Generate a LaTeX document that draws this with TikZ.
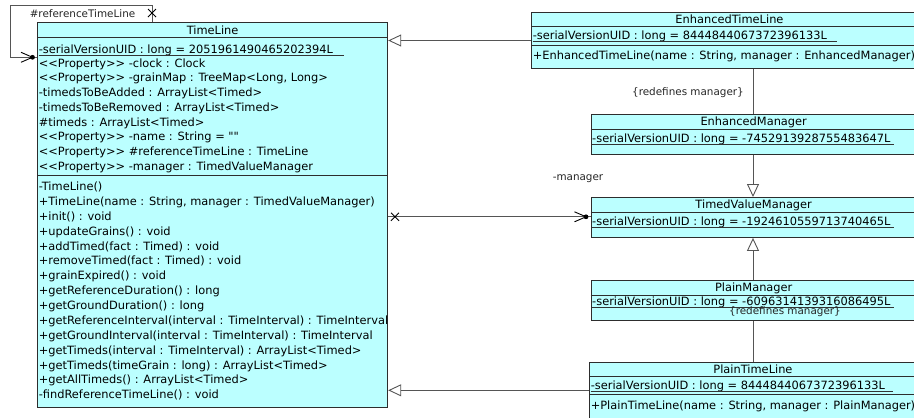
\documentclass[tikz,border=0pt]{standalone}
\usepackage{fontspec}
\setmainfont{DejaVu Sans}[Ligatures=TeXOff]
\usetikzlibrary{arrows.meta}
\definecolor{classfill}{RGB}{187,255,255}
\definecolor{boxline}{RGB}{45,45,45}
\definecolor{wirecol}{RGB}{85,85,85}
\newcommand\umltext{\fontsize{11.4}{13}\selectfont}
\newcommand\umllabel{\fontsize{10.4}{12}\selectfont}

\begin{document}
\begin{tikzpicture}[x=1pt,y=-1pt,
  classbox/.style={draw=boxline, fill=classfill, line width=0.9pt, inner sep=0pt, anchor=north west},
  member/.style={anchor=base west, inner sep=0pt, font=\umltext},
  classtitle/.style={anchor=base, inner sep=0pt, font=\umltext},
  rolelabel/.style={anchor=base, inner sep=0pt, font=\umllabel, text=black!85},
  divider/.style={draw=boxline, line width=0.9pt},
  staticline/.style={draw=black!80, line width=0.7pt},
  wire/.style={draw=wirecol, line width=0.9pt},
  genwire/.style={wire, -{Triangle[open, length=13pt, width=12pt, fill=white]}},
  navtip/.style={draw=black, line width=0.9pt},
]
\useasboundingbox (0,0) rectangle (914,418);
\clip (0,0) rectangle (914,418);

% ---------- TimeLine ----------
\node[classbox, minimum width=350.3pt, minimum height=385pt] (tl) at (37,21.7) {};
\draw[divider] (tl.west |- 0,37.7) -- (tl.east |- 0,37.7);
\draw[divider] (tl.west |- 0,175.7) -- (tl.east |- 0,175.7);
\node[classtitle] (tl-title) at (tl.center |- 0,34.6) {TimeLine};
\node[member] (tl-uid) at (38.6,53.3) {-serialVersionUID : long = 2051961490465202394L};
\draw[staticline] ([yshift=-2pt]tl-uid.base west) -- ([yshift=-2pt,xshift=11pt]tl-uid.base east);
\foreach \txt [count=\i] in {
  {<<Property>> -clock : Clock},
  {<<Property>> -grainMap : TreeMap<Long, Long>},
  {-timedsToBeAdded : ArrayList<Timed>},
  {-timedsToBeRemoved : ArrayList<Timed>},
  {\#timeds : ArrayList<Timed>},
  {<<Property>> -name : String = ""},
  {<<Property>> \#referenceTimeLine : TimeLine},
  {<<Property>> -manager : TimedValueManager}}
  \node[member] (tl-a\i) at (38.6,{63.3+3.8+14.77*(\i-1)}) {\txt};
\foreach \txt [count=\i] in {
  {-TimeLine()},
  {+TimeLine(name : String, manager : TimedValueManager)},
  {+init() : void},
  {+updateGrains() : void},
  {+addTimed(fact : Timed) : void},
  {+removeTimed(fact : Timed) : void},
  {+grainExpired() : void},
  {+getReferenceDuration() : long},
  {+getGroundDuration() : long},
  {+getReferenceInterval(interval : TimeInterval) : TimeInterval},
  {+getGroundInterval(interval : TimeInterval) : TimeInterval},
  {+getTimeds(interval : TimeInterval) : ArrayList<Timed>},
  {+getTimeds(timeGrain : long) : ArrayList<Timed>},
  {+getAllTimeds() : ArrayList<Timed>},
  {-findReferenceTimeLine() : void}}
  \node[member] (tl-m\i) at (38.6,{186.7+3.8+14.88*(\i-1)}) {\txt};

% ---------- EnhancedTimeLine ----------
\node[classbox, minimum width=396pt, minimum height=56pt] (etl) at (531,12.3) {};
\draw[divider] (etl.west |- 0,26.3) -- (etl.east |- 0,26.3);
\draw[divider] (etl.west |- 0,45) -- (etl.east |- 0,45);
\node[classtitle] (etl-title) at (etl.center |- 0,23.2) {EnhancedTimeLine};
\node[member] (etl-uid) at (532.6,39.6) {-serialVersionUID : long = 8444844067372396133L};
\draw[staticline] ([yshift=-2pt]etl-uid.base west) -- ([yshift=-2pt,xshift=10pt]etl-uid.base east);
\node[member] (etl-m1) at (532.6,59.3) {+EnhancedTimeLine(name : String, manager : EnhancedManager)};

% ---------- EnhancedManager ----------
\node[classbox, minimum width=325.5pt, minimum height=40pt] (em) at (590.5,114) {};
\draw[divider] (em.west |- 0,129) -- (em.east |- 0,129);
\node[classtitle] (em-title) at (em.center |- 0,125.3) {EnhancedManager};
\node[member] (em-uid) at (592,142.8) {-serialVersionUID : long = -7452913928755483647L};
\draw[staticline] ([yshift=-2pt]em-uid.base west) -- ([yshift=-2pt,xshift=3pt]em-uid.base east);

% ---------- TimedValueManager ----------
\node[classbox, minimum width=325.5pt, minimum height=40pt] (tvm) at (590.5,197) {};
\draw[divider] (tvm.west |- 0,212) -- (tvm.east |- 0,212);
\node[classtitle] (tvm-title) at (tvm.center |- 0,208.3) {TimedValueManager};
\node[member] (tvm-uid) at (592,225.8) {-serialVersionUID : long = -1924610559713740465L};
\draw[staticline] ([yshift=-2pt]tvm-uid.base west) -- ([yshift=-2pt,xshift=3pt]tvm-uid.base east);

% ---------- PlainManager ----------
\node[classbox, minimum width=325.5pt, minimum height=40pt] (pm) at (590.5,280) {};
\draw[divider] (pm.west |- 0,295) -- (pm.east |- 0,295);
\node[classtitle] (pm-title) at (pm.center |- 0,291.3) {PlainManager};
\node[member] (pm-uid) at (592,305.8) {-serialVersionUID : long = -6096314139316086495L};
\draw[staticline] ([yshift=-2pt]pm-uid.base west) -- ([yshift=-2pt,xshift=3pt]pm-uid.base east);

% ---------- PlainTimeLine ----------
\node[classbox, minimum width=327pt, minimum height=70pt] (ptl) at (589,362) {};
\draw[divider] (ptl.west |- 0,376) -- (ptl.east |- 0,376);
\draw[divider] (ptl.west |- 0,394.7) -- (ptl.east |- 0,394.7);
\node[classtitle] (ptl-title) at (ptl.center |- 0,373) {PlainTimeLine};
\node[member] (ptl-uid) at (590.6,389.3) {-serialVersionUID : long = 8444844067372396133L};
\draw[staticline] ([yshift=-2pt]ptl-uid.base west) -- ([yshift=-2pt,xshift=8pt]ptl-uid.base east);
\node[member] (ptl-m1) at (590.6,409) {+PlainTimeLine(name : String, manager : PlainManager)};

% ---------- generalizations ----------
\draw[genwire] (etl.west |- 0,40.5) -- (tl.east |- 0,40.5);
\draw[genwire] (ptl.west |- 0,390.3) -- (tl.east |- 0,390.3);
\draw[genwire] (em.south -| 753,0) -- (tvm.north -| 753,0);
\draw[genwire] (pm.north -| 753,0) -- (tvm.south -| 753,0);

% ---------- redefining links ----------
\draw[wire] (etl.south -| 753,0) -- (em.north -| 753,0);
\draw[wire] (pm.south -| 753,0) -- (ptl.north -| 753,0);
\node[rolelabel] (redef-e) at (688,95.6) {\{redefines manager\}};
\node[rolelabel] (redef-p) at (785,314.2) {\{redefines manager\}};

% ---------- TimeLine -> TimedValueManager (manager) ----------
\coordinate (mgr-from) at (tl.east |- 0,216.8);
\coordinate (mgr-to) at (tvm.west |- 0,216.8);
\draw[wire] (mgr-from) -- (mgr-to);
\draw[navtip] (391,212.8) -- (399,220.8) (391,220.8) -- (399,212.8);
\draw[navtip] (574.5,211.8) -- (586,216.8) -- (574.5,221.8);
\fill[black] (586,216.8) circle (2.4pt);
\node[rolelabel] (mgr-role) at (578,180) {-manager};

% ---------- TimeLine self reference (referenceTimeLine) ----------
\coordinate (self-top) at (152,5);
\coordinate (self-corner) at (10,5);
\coordinate (self-low) at (10,57.3);
\draw[wire] (tl.north -| self-top) -- (self-top) -- (self-corner) -- (self-low) -- (tl.west |- self-low);
\draw[navtip] (148,9) -- (156,17) (148,17) -- (156,9);
\draw[navtip] (21,52.3) -- (32.5,57.3) -- (21,62.3);
\fill[black] (32.5,57.3) circle (2.4pt);
\node[rolelabel] (self-role) at (82.5,17.6) {\#referenceTimeLine};
\end{tikzpicture}
\end{document}
